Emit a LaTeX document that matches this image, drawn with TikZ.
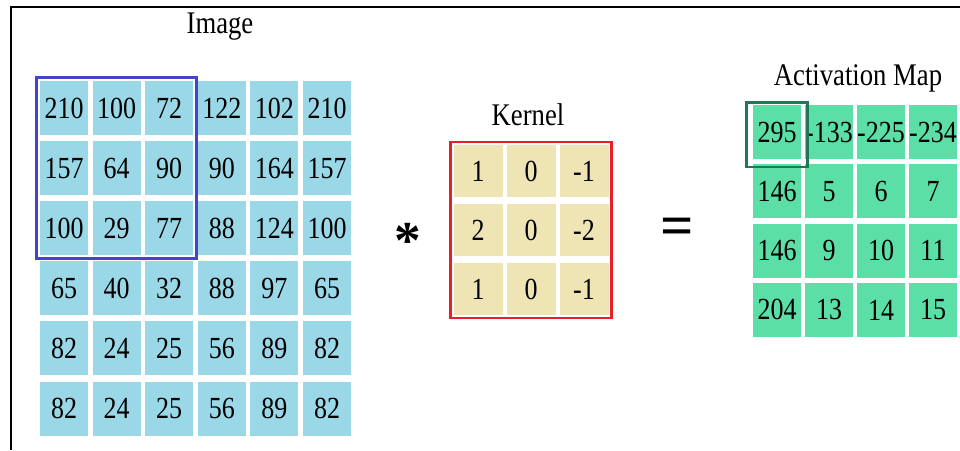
\documentclass[tikz,border=0pt]{standalone}
\usepackage{fontspec}
\setmainfont{Liberation Serif}
\usepackage{tikz}
\usetikzlibrary{calc, positioning, fit}
\definecolor{pixblue}{RGB}{154,216,232}
\definecolor{kertan}{RGB}{239,228,180}
\definecolor{actgreen}{RGB}{92,222,167}
\definecolor{winblue}{RGB}{68,68,200}
\definecolor{kerred}{RGB}{232,30,40}
\definecolor{focgreen}{RGB}{30,120,85}
\newcommand{\tall}[1]{\scalebox{1}[1.18]{#1}}
\tikzstyle{cell}=[inner sep=0pt, font=\fontsize{19.5}{20}\selectfont]
\tikzstyle{pix}=[cell, fill=pixblue, minimum width=36pt, minimum height=40.5pt]
\tikzstyle{ker}=[cell, fill=kertan, minimum width=36.75pt, minimum height=39pt]
\tikzstyle{act}=[cell, fill=actgreen, minimum width=36pt, minimum height=40.5pt]
\tikzstyle{ttl}=[inner sep=0pt, font=\fontsize{20}{22}\selectfont]
\tikzset{>=stealth}

\begin{document}
\begin{tikzpicture}[x=0.75pt, y=-0.75pt]
\useasboundingbox (0,0) rectangle (960,450);
\draw[line width=1.5pt] (11,450) |- (960,7);

% input image
\foreach \row [count=\r from 0] in {{210,100,72,122,102,210},{157,64,90,90,164,157},{100,29,77,88,124,100},{65,40,32,88,97,65},{82,24,25,56,89,82},{82,24,25,56,89,82}}{
\foreach \v [count=\c from 0] in \row {
\node[pix] (I\r\c) at ({64+52.6*\c},{108+60.1*\r}) {\tall{\v}};
}
}
\node[ttl] (imgT) at (220,27) {\tall{Image}};
\node[draw=winblue, line width=2.25pt, inner sep=2.6pt, fit=(I00)(I22)] (win) {};

% kernel
\foreach \row [count=\r from 0] in {{1,0,-1},{2,0,-2},{1,0,-1}}{
\foreach \v [count=\c from 0] in \row {
\node[ker] (K\r\c) at ({478+53*\c},{171+59*\r}) {\tall{\v}};
}
}
\node[ttl] (kerT) at (528,115) {\tall{Kernel}};
\node[draw=kerred, line width=1.9pt, inner sep=2.2pt, fit=(K00)(K22)] (kfr) {};

% activation map
\foreach \row [count=\r from 0] in {{295,-133,-225,-234},{146,5,6,7},{146,9,10,11},{204,13,14,15}}{
\foreach \v [count=\c from 0] in \row {
\node[act] (A\r\c) at ({777+52*\c},{132+59.3*\r}) {\tall{\v}};
}
}
\node[ttl] (actT) at (858,78) {\tall{Activation Map}};
\node[draw=focgreen, line width=1.9pt, inner xsep=4.5pt, inner ysep=3.8pt, yshift=-2pt, fit=(A00)] (foc) {};

% operators
\node[inner sep=0pt, font=\fontsize{40}{40}\bfseries] (star) at (408,241) {*};
\node[inner sep=0pt, font=\fontsize{44}{44}\bfseries] (eq) at (677,232) {=};
\end{tikzpicture}
\end{document}
